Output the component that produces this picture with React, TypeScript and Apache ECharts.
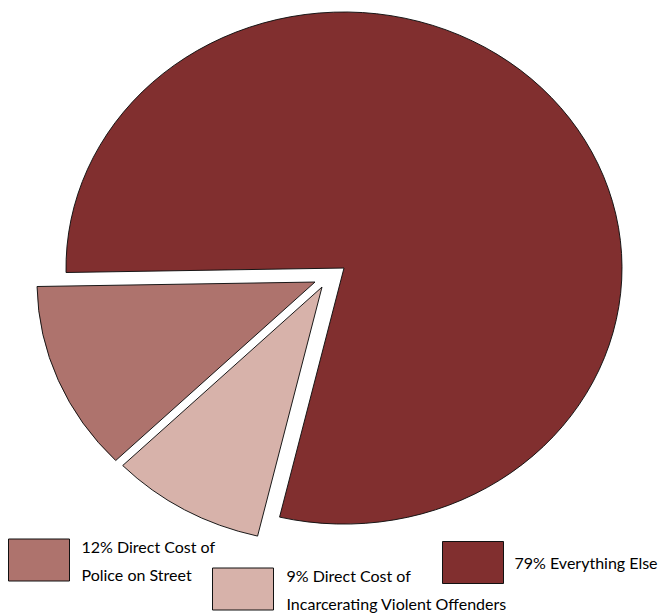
import React, { useEffect, useRef } from "react";
import * as echarts from "echarts";

// ---- data ----
const categories = [
  "Everything Else",
  "Direct Cost of Incarcerating Violent Offenders",
  "Direct Cost of Police on Street",
];
const values = [79, 9, 12];
const labelFirstLines = ["Everything Else", "Direct Cost of", "Direct Cost of"];
const labelSecondLines = ["", "Incarcerating Violent Offenders", "Police on Street"];

// ---- styles ----
const COLORS = ["#812f2f", "#d7b2aa", "#ae736d"];
const EXPLODE = [
  [0, 0],
  [-22, 19],
  [-29, 14],
];
const CX = 344;
const CY = 268;
const R = 278;
const SY = 256 / 278;
const START_DEG = 179; // screen angle, clockwise from 3 o'clock
const LEGEND_POS = [
  { left: 442, top: 541, pad: [0, 0, 0, 6] },
  { left: 212, top: 561, pad: [0, 0, 0, 8] },
  { left: 8, top: 528, pad: [8, 0, 0, 7] },
];
const FONT = "Lato, 'Liberation Sans', sans-serif";

export default function App() {
  const ref = useRef<HTMLDivElement>(null);

  useEffect(() => {
    if (!ref.current) return;
    const chart = echarts.init(ref.current, undefined, { renderer: "svg" });
    const total = values.reduce((a, b) => a + b, 0);
    const cum: number[] = [];
    let acc = 0;
    values.forEach((v) => {
      cum.push(acc);
      acc += v;
    });

    const series = categories.map((name, i) => ({
      type: "custom",
      name,
      coordinateSystem: "none",
      data: [values[i]],
      itemStyle: { color: COLORS[i] },
      silent: true,
      renderItem: (params: any, api: any) => {
        const v = api.value(0);
        const a0 = ((START_DEG + (360 * cum[i]) / total) * Math.PI) / 180;
        const a1 = a0 + ((360 * v) / total) * Math.PI / 180;
        return {
          type: "sector",
          shape: { cx: CX, cy: CY, r0: 0, r: R, startAngle: a0, endAngle: a1, clockwise: true },
          x: EXPLODE[i][0],
          y: EXPLODE[i][1],
          scaleY: SY,
          originX: CX,
          originY: CY,
          style: { fill: COLORS[i], stroke: "#111", lineWidth: 1, strokeNoScale: true },
        };
      },
    }));

    const legends = categories.map((name, i) => ({
      left: LEGEND_POS[i].left,
      top: LEGEND_POS[i].top,
      orient: "horizontal",
      padding: 0,
      itemWidth: 61,
      itemHeight: 42,
      selectedMode: false,
      data: [
        {
          name,
          icon: "rect",
          itemStyle: { color: COLORS[i], borderColor: "#111", borderWidth: 1 },
        },
      ],
      formatter: () =>
        labelSecondLines[i]
          ? `${values[i]}% ${labelFirstLines[i]}\n${labelSecondLines[i]}`
          : `${values[i]}% ${labelFirstLines[i]}`,
      textStyle: {
        fontFamily: FONT,
        fontSize: 16,
        color: "#000",
        lineHeight: 28,
        padding: LEGEND_POS[i].pad,
      },
    }));

    chart.setOption({
      animation: false,
      backgroundColor: "#fff",
      legend: legends,
      series,
    });
    return () => chart.dispose();
  }, []);

  return (
    <div
      ref={ref}
      style={{ position: "fixed", left: 0, top: 0, width: 663, height: 614 }}
    />
  );
}
